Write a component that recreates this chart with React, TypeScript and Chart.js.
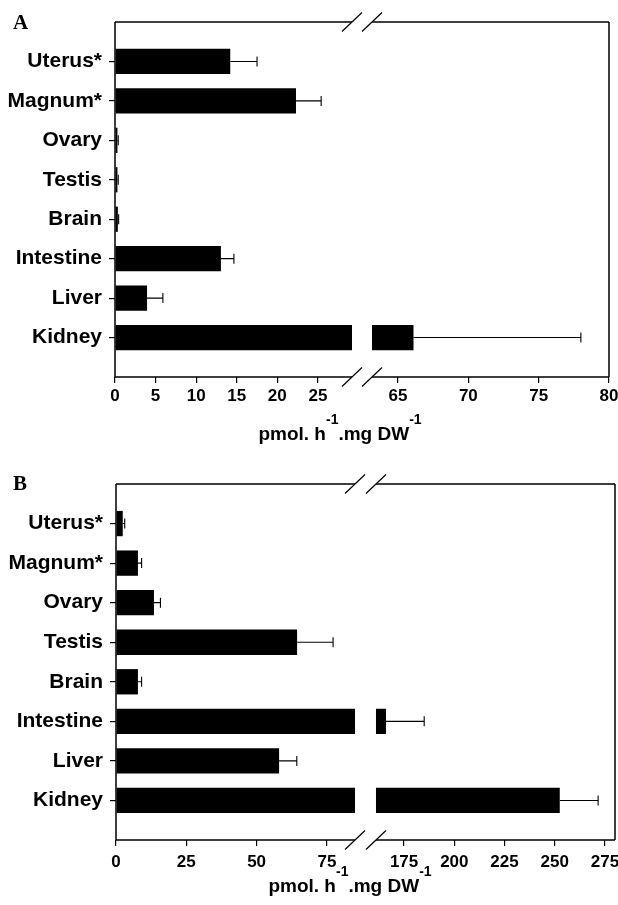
import React, { useEffect, useRef } from 'react';
import { Chart, registerables, LinearScale } from 'chart.js';

Chart.register(...registerables);

// ---------------- data ----------------
const organs = ['Uterus*', 'Magnum*', 'Ovary', 'Testis', 'Brain', 'Intestine', 'Liver', 'Kidney'];

const valuesA = [14.2, 22.3, 0.3, 0.3, 0.35, 13.05, 3.95, 66.1];
const errorsA = [3.3, 3.1, 0.1, 0.1, 0.1, 1.6, 1.95, 11.9];
const ticksA = [0, 5, 10, 15, 20, 25, 65, 70, 75, 80];

const valuesB = [2.4, 7.8, 13.5, 64.4, 7.8, 166, 58.0, 252.5];
const errorsB = [0.7, 1.3, 2.3, 12.8, 1.3, 19, 6.3, 19.1];
const ticksB = [0, 25, 50, 75, 175, 200, 225, 250, 275];

const axisTitleParts = [
  { text: 'pmol. h', sup: false },
  { text: '-1', sup: true },
  { text: '.mg DW', sup: false },
  { text: '-1', sup: true },
];

// ---------------- broken linear scale ----------------
class BrokenLinearScale extends LinearScale {
  static id = 'brokenLinear';
  static defaults = LinearScale.defaults;

  _brk() {
    const b = (this.options as any).brk;
    return { lowMax: b.lowMax as number, highMin: b.highMin as number, gap: b.gap as number };
  }

  getPixelForValue(value: number) {
    const { lowMax, highMin, gap } = this._brk();
    const min = this.min;
    const max = this.max;
    const f1 = (1 - gap) / 2;
    let dec;
    if (value <= lowMax) dec = ((value - min) / (lowMax - min)) * f1;
    else if (value >= highMin) dec = f1 + gap + ((value - highMin) / (max - highMin)) * (1 - f1 - gap);
    else dec = f1 + (gap * (value - lowMax)) / (highMin - lowMax);
    return this.getPixelForDecimal(dec);
  }

  getValueForPixel(pixel: number) {
    const { lowMax, highMin, gap } = this._brk();
    const dec = this.getDecimalForPixel(pixel);
    const f1 = (1 - gap) / 2;
    if (dec <= f1) return this.min + (dec / f1) * (lowMax - this.min);
    if (dec >= f1 + gap) return highMin + ((dec - f1 - gap) / (1 - f1 - gap)) * (this.max - highMin);
    return lowMax + ((dec - f1) / gap) * (highMin - lowMax);
  }
}
Chart.register(BrokenLinearScale);

const SANS = "'Liberation Sans', Arial, Helvetica, sans-serif";
const SERIF = "'Liberation Serif', 'Times New Roman', serif";

type Panel = {
  letter: string;
  values: number[];
  errors: number[];
  ticks: number[];
  max: number;
  lowMax: number;
  highMin: number;
  gap: number;
  height: number;
  padTop: number;
  padRight: number;
  yWidth: number;
  xHeight: number;
  tickPad: number;
  titleX: number;
  titleBaseline: number;
  letterBaseline: number;
};

const panelA: Panel = {
  letter: 'A',
  values: valuesA,
  errors: errorsA,
  ticks: ticksA,
  max: 80,
  lowMax: 29.2,
  highMin: 63.15,
  gap: 0.0405,
  height: 452,
  padTop: 22,
  padRight: 9,
  yWidth: 115,
  xHeight: 75,
  tickPad: 3,
  titleX: 340,
  titleBaseline: 440,
  letterBaseline: 29,
};

const panelB: Panel = {
  letter: 'B',
  values: valuesB,
  errors: errorsB,
  ticks: ticksB,
  max: 280,
  lowMax: 85,
  highMin: 161,
  gap: 0.042,
  height: 453,
  padTop: 32,
  padRight: 3,
  yWidth: 116,
  xHeight: 65,
  tickPad: 6,
  titleX: 350,
  titleBaseline: 440,
  letterBaseline: 38,
};

function makePlugin(p: Panel) {
  return {
    id: 'brokenFrame' + p.letter,
    afterDatasetsDraw(chart: any) {
      const { ctx, chartArea } = chart;
      const { left, right, top, bottom } = chartArea;
      const xs = chart.scales.x;
      const ys = chart.scales.y;
      const b1 = xs.getPixelForValue(p.lowMax);
      const b2 = xs.getPixelForValue(p.highMin);
      ctx.save();
      // gap in bars
      ctx.fillStyle = '#ffffff';
      ctx.fillRect(b1, top + 1, b2 - b1, bottom - top - 1);

      // error bars
      ctx.strokeStyle = '#000';
      ctx.lineWidth = 1.1;
      ctx.beginPath();
      p.values.forEach((v, i) => {
        const e = p.errors[i];
        const x0 = xs.getPixelForValue(v);
        const x1 = xs.getPixelForValue(v + e);
        const y = ys.getPixelForValue(i);
        ctx.moveTo(x0, y);
        ctx.lineTo(x1, y);
        ctx.moveTo(x1, y - 5);
        ctx.lineTo(x1, y + 5);
      });
      ctx.stroke();

      // frame
      ctx.lineWidth = 1.5;
      ctx.beginPath();
      ctx.moveTo(left, top);
      ctx.lineTo(left, bottom);
      ctx.moveTo(left, bottom);
      ctx.lineTo(b1, bottom);
      ctx.moveTo(b2, bottom);
      ctx.lineTo(right, bottom);
      ctx.moveTo(left, top);
      ctx.lineTo(b1, top);
      ctx.moveTo(b2, top);
      ctx.lineTo(right, top);
      ctx.moveTo(right, top);
      ctx.lineTo(right, bottom);
      ctx.stroke();

      // break marks
      ctx.lineWidth = 1.2;
      ctx.beginPath();
      [top, bottom].forEach((yy) => {
        [b1, b2].forEach((bx) => {
          ctx.moveTo(bx - 10, yy + 9.5);
          ctx.lineTo(bx + 10, yy - 9.5);
        });
      });
      ctx.stroke();
      ctx.restore();
    },
    afterDraw(chart: any) {
      const ctx = chart.ctx;
      ctx.save();
      ctx.fillStyle = '#000';
      ctx.textBaseline = 'alphabetic';
      ctx.textAlign = 'left';
      // panel letter
      ctx.font = `bold 21px ${SERIF}`;
      ctx.fillText(p.letter, 13, p.letterBaseline);
      // axis title with superscripts
      const big = `bold 19px ${SANS}`;
      const small = `bold 14px ${SANS}`;
      let total = 0;
      const widths = axisTitleParts.map((part) => {
        ctx.font = part.sup ? small : big;
        const w = ctx.measureText(part.text).width;
        total += w;
        return w;
      });
      let x = p.titleX - total / 2;
      axisTitleParts.forEach((part, i) => {
        ctx.font = part.sup ? small : big;
        ctx.fillText(part.text, x, part.sup ? p.titleBaseline - 16 : p.titleBaseline);
        x += widths[i];
      });
      ctx.restore();
    },
  };
}

function makeConfig(p: Panel): any {
  return {
    type: 'bar',
    data: {
      datasets: [
        {
          data: p.values.map((v, i) => ({ x: v, y: i })),
          backgroundColor: '#000',
          borderWidth: 0,
          categoryPercentage: 0.8,
          barPercentage: 0.8,
        },
      ],
    },
    options: {
      indexAxis: 'y',
      animation: false,
      responsive: false,
      maintainAspectRatio: false,
      layout: { padding: { top: p.padTop, right: p.padRight, left: 0, bottom: 0 } },
      plugins: { legend: { display: false }, tooltip: { enabled: false }, title: { display: false } },
      scales: {
        x: {
          type: 'brokenLinear',
          position: 'bottom',
          min: 0,
          max: p.max,
          offset: false,
          brk: { lowMax: p.lowMax, highMin: p.highMin, gap: p.gap },
          afterBuildTicks: (s: any) => {
            s.ticks = p.ticks.map((v) => ({ value: v }));
          },
          afterFit: (s: any) => {
            s.height = p.xHeight;
            s.paddingLeft = 0;
            s.paddingRight = 0;
          },
          border: { display: false },
          grid: {
            display: true,
            offset: false,
            drawOnChartArea: false,
            drawTicks: true,
            tickLength: 6,
            color: '#000',
            tickColor: '#000',
            lineWidth: 1.2,
          },
          ticks: {
            autoSkip: false,
            maxRotation: 0,
            minRotation: 0,
            padding: p.tickPad,
            color: '#000',
            font: { family: SANS, size: 17, weight: 'bold' },
            callback: (v: any) => String(v),
          },
        },
        y: {
          type: 'linear',
          position: 'left',
          reverse: true,
          min: -1,
          max: 8,
          offset: false,
          afterBuildTicks: (s: any) => {
            s.ticks = organs.map((_, i) => ({ value: i }));
          },
          afterFit: (s: any) => {
            s.width = p.yWidth;
            s.paddingTop = 0;
            s.paddingBottom = 0;
          },
          border: { display: false },
          grid: {
            display: true,
            offset: false,
            drawOnChartArea: false,
            drawTicks: true,
            tickLength: 6,
            color: '#000',
            tickColor: '#000',
            lineWidth: 1.2,
          },
          ticks: {
            autoSkip: false,
            padding: 7,
            color: '#000',
            font: { family: SANS, size: 21, weight: 'bold' },
            callback: (v: any) => organs[v] ?? '',
          },
        },
      },
    },
    plugins: [makePlugin(p)],
  };
}

function PanelChart({ p }: { p: Panel }) {
  const ref = useRef<HTMLCanvasElement | null>(null);
  useEffect(() => {
    if (!ref.current) return;
    const chart = new Chart(ref.current, makeConfig(p));
    return () => chart.destroy();
  }, [p]);
  return <canvas ref={ref} width={618} height={p.height} style={{ display: 'block', width: 618, height: p.height }} />;
}

export default function App() {
  return (
    <div style={{ position: 'absolute', left: 0, top: 0, width: 618, height: 905, background: '#fff' }}>
      <PanelChart p={panelA} />
      <PanelChart p={panelB} />
    </div>
  );
}
